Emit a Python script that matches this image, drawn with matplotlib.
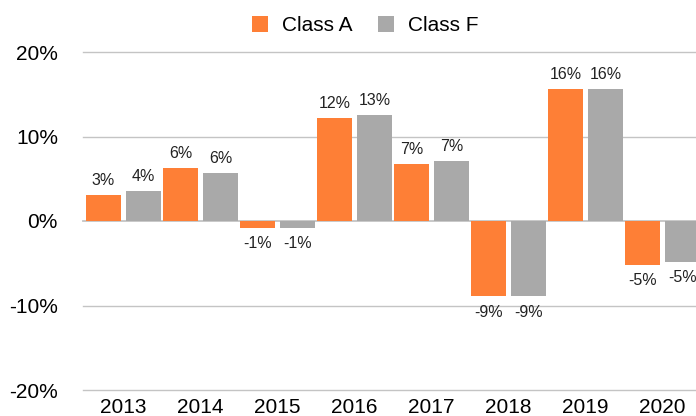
import numpy as np
import matplotlib
matplotlib.use("Agg")
from matplotlib import pyplot as plt

years = ["2013", "2014", "2015", "2016", "2017", "2018", "2019", "2020"]
class_a = [3.1, 6.3, -0.8, 12.2, 6.7, -8.9, 15.6, -5.2]
class_f = [3.52, 5.7, -0.8, 12.55, 7.1, -8.9, 15.6, -4.8]
yticks = [-20, -10, 0, 10, 20]

orange = "#FE7F36"
gray = "#A9A9A9"

plt.rcParams['font.family'] = ['Liberation Sans', 'DejaVu Sans']

fig = plt.figure(figsize=(6.96, 4.16), dpi=100)
ax = fig.add_axes([83 / 696, 26 / 416, 613 / 696, 338 / 416])

x = np.arange(len(years))
w = 35 / 77
off = 20 / 77
bars_a = ax.bar(x - off, class_a, w, color=orange, label="Class A", zorder=3)
bars_f = ax.bar(x + off, class_f, w, color=gray, label="Class F", zorder=3)

for bars, vals in [(bars_a, class_a), (bars_f, class_f)]:
    for b, v in zip(bars, vals):
        cx = b.get_x() + b.get_width() / 2
        if v >= 0:
            ax.annotate("%.0f%%" % v, (cx, v), xytext=(0, 5), textcoords="offset points",
                        ha="center", va="bottom", fontsize=11.5, color="#222222")
        else:
            ax.annotate("%.0f%%" % v, (cx, v), xytext=(0, -6), textcoords="offset points",
                        ha="center", va="top", fontsize=11.5, color="#222222")

for t in yticks:
    ax.axhline(t, color="#C4C4C4", lw=1.3 if t == 0 else 1.0, zorder=1, clip_on=False)

ax.set_xlim(-0.526, 7.435)
ax.set_ylim(-20, 20)
ax.set_yticks(yticks)
ax.set_yticklabels(["%d%%" % t for t in yticks], fontsize=15)
ax.set_xticks(x)
ax.set_xticklabels(years, fontsize=15)
ax.tick_params(length=0)
ax.tick_params(axis="y", pad=18)
ax.tick_params(axis="x", pad=6)
for s in ax.spines.values():
    s.set_visible(False)

fig.legend(loc="center", bbox_to_anchor=(365 / 696, 1 - 25.5 / 416), ncol=2, frameon=False,
           fontsize=15, handlelength=0.77, handleheight=0.77, handletextpad=0.67,
           columnspacing=1.2, borderaxespad=0)

fig.savefig("out.png", dpi=100)
